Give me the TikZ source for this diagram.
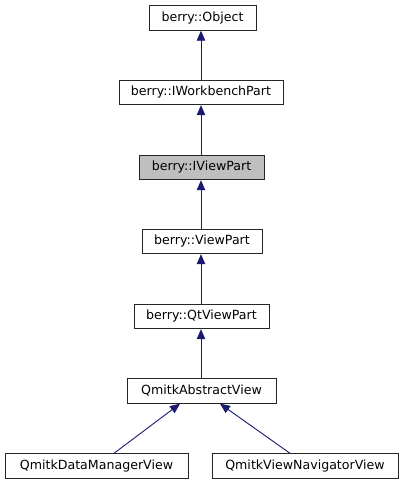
\documentclass[tikz,border=0pt]{standalone}
\usepackage{fontspec}
\setmainfont{DejaVu Sans}
\usetikzlibrary{arrows.meta,calc}
\definecolor{edgeblue}{HTML}{191970}
\definecolor{boxgray}{HTML}{BFBFBF}
\tikzset{
  cls/.style={draw=black!85, line width=0.9pt, fill=white, inner sep=0pt, minimum height=24.5pt,
    font=\fontsize{12.6pt}{14pt}\selectfont},
  cur/.style={cls, fill=boxgray},
  edge/.style={draw=edgeblue, line width=0.9pt, -{Triangle[length=10pt,width=8.5pt]}, color=edgeblue}
}
\begin{document}
\begin{tikzpicture}[x=1pt,y=-1pt]
\useasboundingbox (0,0) rectangle (408,485);
\node[cls, minimum width=107pt] (obj) at (202.5,18) {berry::Object};
\node[cls, minimum width=164pt] (iwp) at (201,92.5) {berry::IWorkbenchPart};
\node[cur, minimum width=125pt] (ivp) at (201.5,167.5) {berry::IViewPart};
\node[cls, minimum width=120pt] (vp) at (202,241.5) {berry::ViewPart};
\node[cls, minimum width=135pt] (qvp) at (201.5,316.5) {berry::QtViewPart};
\node[cls, minimum width=149pt] (qav) at (201.5,391) {QmitkAbstractView};
\node[cls, minimum width=183pt] (dmv) at (96.5,466) {QmitkDataManagerView};
\node[cls, minimum width=186pt] (vnv) at (305,466) {QmitkViewNavigatorView};
\draw[edge] (iwp.north -| 201,0) -- (obj.south -| 201,0);
\draw[edge] (ivp.north -| 201,0) -- (iwp.south -| 201,0);
\draw[edge] (vp.north -| 201,0) -- (ivp.south -| 201,0);
\draw[edge] (qvp.north -| 201,0) -- (vp.south -| 201,0);
\draw[edge] (qav.north -| 201,0) -- (qvp.south -| 201,0);
\draw[edge] ($(dmv.north)+(17.5,0)$) -- ($(qav.south)+(-21.5,0)$);
\draw[edge] ($(vnv.north)+(-15,0)$) -- ($(qav.south)+(18.5,0)$);
\end{tikzpicture}
\end{document}
